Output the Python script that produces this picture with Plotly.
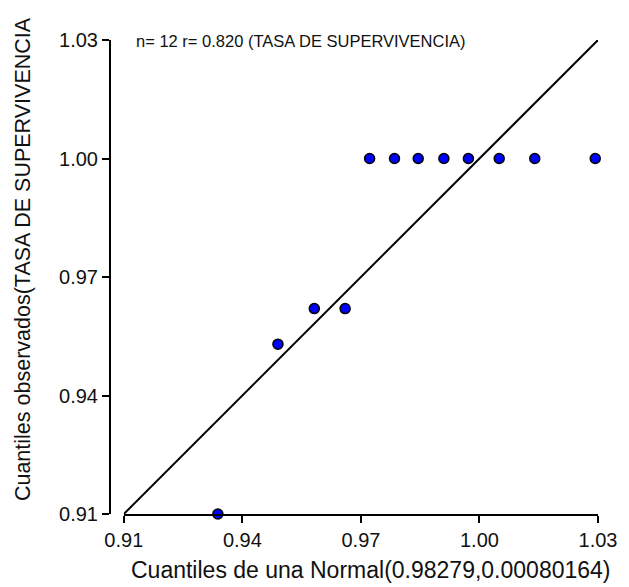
import plotly.graph_objects as go

# Data
theoretical_q = [0.9338, 0.9490, 0.9582, 0.9660, 0.9722, 0.9785,
                 0.9845, 0.9910, 0.9972, 1.0050, 1.0140, 1.0293]
observed_q = [0.910, 0.953, 0.962, 0.962, 1.000, 1.000,
              1.000, 1.000, 1.000, 1.000, 1.000, 1.000]
ref_line_x = [0.91, 1.03]
ref_line_y = [0.91, 1.03]
tick_vals = [0.91, 0.94, 0.97, 1.00, 1.03]
tick_text = ["0.91", "0.94", "0.97", "1.00", "1.03"]

x_title = "Cuantiles de una Normal(0.98279,0.00080164)"
y_title = "Cuantiles observados(TASA DE SUPERVIVENCIA"
note = "n= 12 r= 0.820 (TASA DE SUPERVIVENCIA)"

FONT = "Liberation Sans, Arial, sans-serif"

fig = go.Figure()
fig.add_trace(go.Scatter(x=ref_line_x, y=ref_line_y, mode="lines",
                         line=dict(color="black", width=2),
                         showlegend=False, hoverinfo="skip", cliponaxis=False))
fig.add_trace(go.Scatter(x=theoretical_q, y=observed_q, mode="markers",
                         marker=dict(color="#0000FF", size=10,
                                     line=dict(color="black", width=1.5)),
                         showlegend=False, cliponaxis=False))

W, H = 629, 587
YAX = 110          # pixel x of the (offset) y axis line
X0 = 124           # pixel x of 0.91 on the x axis
R, T, B = 25, 40, 73
pw, ph = W - YAX - R, H - T - B

def px_x(p):
    return (p - YAX) / pw

def px_y(p):
    return (H - B - p) / ph

axis_common = dict(range=[0.91, 1.03], tickvals=tick_vals, ticktext=tick_text,
                   showgrid=False, zeroline=False, showline=True,
                   linecolor="black", linewidth=2, ticks="outside",
                   ticklen=7, tickwidth=2, tickcolor="black",
                   tickfont=dict(family=FONT, size=20, color="#111111"))

fig.update_layout(
    width=W, height=H,
    margin=dict(l=YAX, r=R, t=T, b=B, pad=0),
    plot_bgcolor="white", paper_bgcolor="white",
    xaxis=dict(domain=[px_x(X0), 1], **axis_common),
    yaxis=dict(anchor="free", position=0, **axis_common),
    annotations=[
        dict(text=note, xref="paper", yref="paper", x=px_x(134), y=px_y(41),
             xanchor="left", yanchor="middle", showarrow=False,
             font=dict(family=FONT, size=16.5, color="#111111")),
        dict(text=x_title, xref="paper", yref="paper", x=px_x(374), y=px_y(570),
             xanchor="center", yanchor="middle", showarrow=False,
             font=dict(family=FONT, size=23, color="#111111")),
        dict(text=y_title, xref="paper", yref="paper", x=px_x(22), y=px_y(503),
             xanchor="center", yanchor="bottom", textangle=-90, showarrow=False,
             font=dict(family=FONT, size=21.5, color="#111111")),
    ],
)

fig.write_html("out.html")
